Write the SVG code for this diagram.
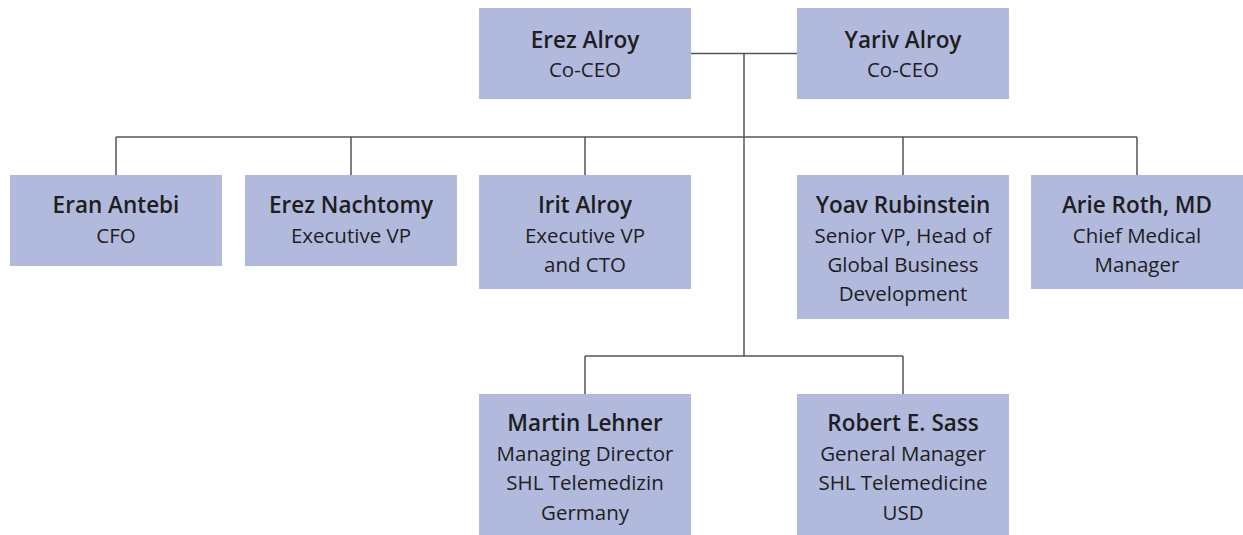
<svg xmlns="http://www.w3.org/2000/svg" width="1243" height="535" viewBox="0 0 1243 535">
<style>
.box{fill:#b1b9dd}
.t{font-family:"Open Sans","Noto Sans",sans-serif;fill:#1e1e1e;text-anchor:middle}
.n{font-size:22.5px;font-weight:600}
.s{font-size:20.5px;font-weight:400}
.c{fill:none;stroke:#555;stroke-width:1.5}
</style>
<rect width="1243" height="535" fill="#fff"/>
<g id="connectors">
<path class="c" d="M691 53.5H797M744 53.5V356M116 137H1137M116 137V175M351 137V175M585 137V175M903 137V175M1137 137V175M585 356H903M585 356V394M903 356V394"/>
</g>
<g id="erez-alroy"><rect class="box" x="479" y="8" width="212" height="91"/><text class="t n" x="585" y="48">Erez Alroy</text><text class="t s" x="585" y="77">Co-CEO</text></g>
<g id="yariv-alroy"><rect class="box" x="797" y="8" width="212" height="91"/><text class="t n" x="903" y="48">Yariv Alroy</text><text class="t s" x="903" y="77">Co-CEO</text></g>
<g id="eran-antebi"><rect class="box" x="10" y="175" width="212" height="91"/><text class="t n" x="116" y="213">Eran Antebi</text><text class="t s" x="116" y="243">CFO</text></g>
<g id="erez-nachtomy"><rect class="box" x="245" y="175" width="212" height="91"/><text class="t n" x="351" y="213">Erez Nachtomy</text><text class="t s" x="351" y="243">Executive VP</text></g>
<g id="irit-alroy"><rect class="box" x="479" y="175" width="212" height="114"/><text class="t n" x="585" y="213">Irit Alroy</text><text class="t s" x="585" y="243">Executive VP</text><text class="t s" x="585" y="272">and CTO</text></g>
<g id="yoav-rubinstein"><rect class="box" x="797" y="175" width="212" height="144"/><text class="t n" x="903" y="213">Yoav Rubinstein</text><text class="t s" x="903" y="243">Senior VP, Head of</text><text class="t s" x="903" y="272">Global Business</text><text class="t s" x="903" y="301">Development</text></g>
<g id="arie-roth"><rect class="box" x="1031" y="175" width="212" height="114"/><text class="t n" x="1137" y="213">Arie Roth, MD</text><text class="t s" x="1137" y="243">Chief Medical</text><text class="t s" x="1137" y="272">Manager</text></g>
<g id="martin-lehner"><rect class="box" x="479" y="394" width="212" height="141"/><text class="t n" x="585" y="431">Martin Lehner</text><text class="t s" x="585" y="461">Managing Director</text><text class="t s" x="585" y="490">SHL Telemedizin</text><text class="t s" x="585" y="520">Germany</text></g>
<g id="robert-sass"><rect class="box" x="797" y="394" width="212" height="141"/><text class="t n" x="903" y="431">Robert E. Sass</text><text class="t s" x="903" y="461">General Manager</text><text class="t s" x="903" y="490">SHL Telemedicine</text><text class="t s" x="903" y="520">USD</text></g>
</svg>
